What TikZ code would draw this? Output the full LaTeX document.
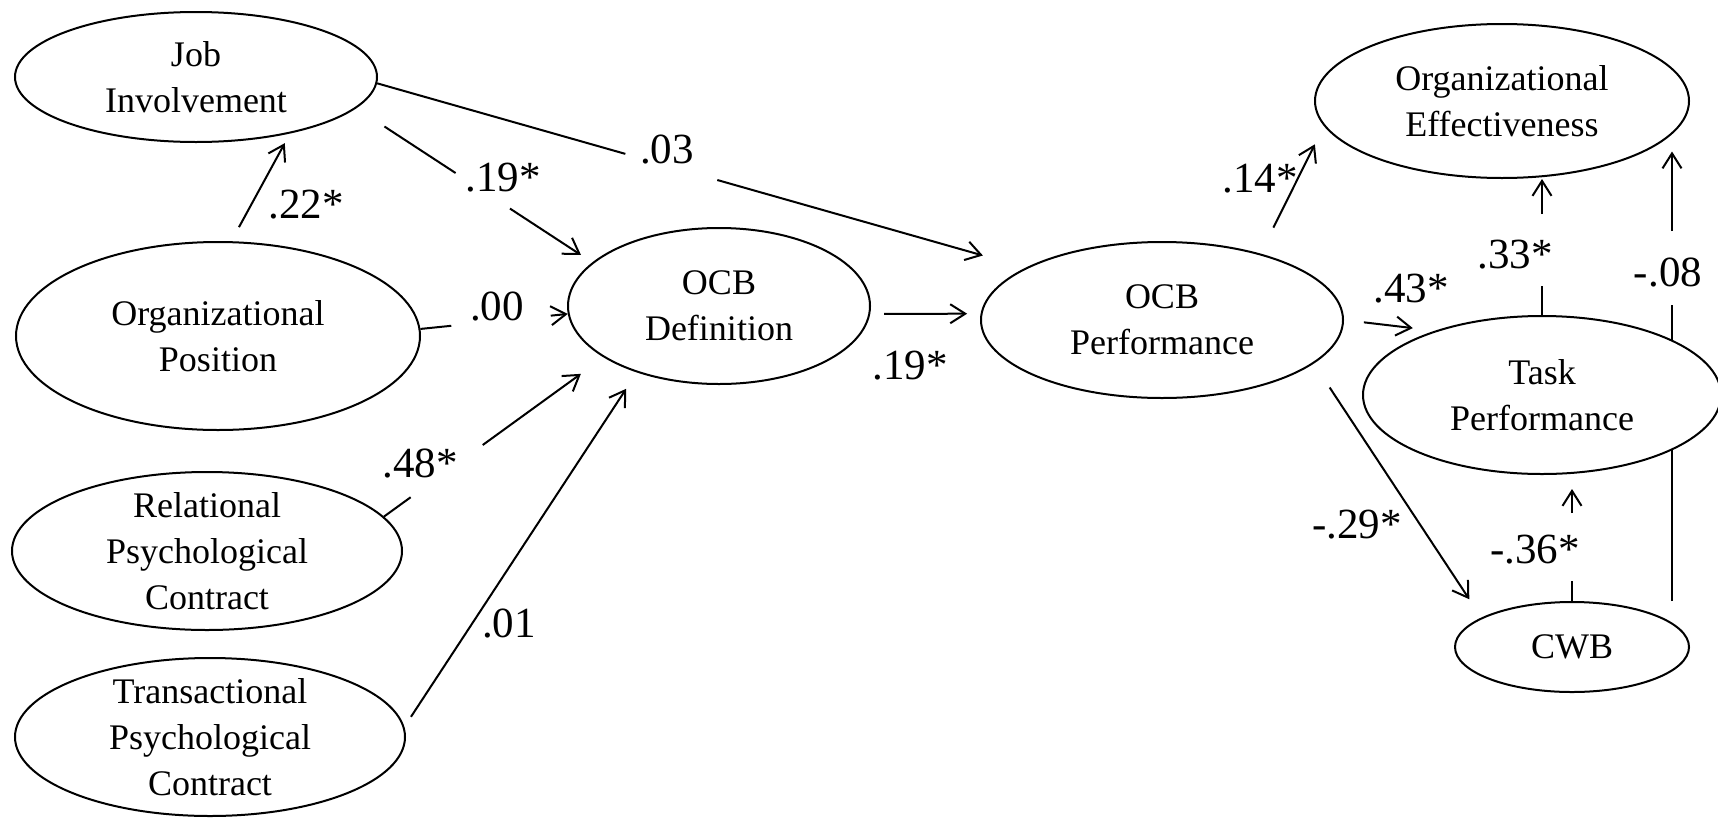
\documentclass[tikz,border=0pt]{standalone}
\usepackage{fontspec}
\setmainfont{Liberation Serif}
\usetikzlibrary{shapes.geometric,arrows.meta}
\pgfdeclarelayer{bg}
\pgfsetlayers{bg,main}
\begin{document}
\begin{tikzpicture}[x=1pt,y=-1pt,
  latent/.style={ellipse, draw, line width=2pt, fill=white, inner sep=0pt, align=center,
                 font=\fontsize{36}{46}\selectfont},
  conn/.style={line width=2pt, -{Straight Barb[length=15pt,width=19pt]}},
  coef/.style={anchor=base, inner sep=0pt, font=\fontsize{43}{50}\selectfont}]
\useasboundingbox (0,0) rectangle (1718,817);

% latent variables
\node[latent, minimum width=362pt, minimum height=130pt] (JI) at (196,77) {Job\\Involvement};
\node[latent, minimum width=404pt, minimum height=188pt] (OP) at (218,336) {Organizational\\Position};
\node[latent, minimum width=390pt, minimum height=158pt, inner ysep=-8pt] (RPC) at (207,551) {Relational\\Psychological\\Contract};
\node[latent, minimum width=390pt, minimum height=158pt, inner ysep=-8pt] (TPC) at (210,737) {Transactional\\Psychological\\Contract};
\node[latent, minimum width=302pt, minimum height=156pt] (DEF) at (719,306) {OCB\\Definition};
\node[latent, minimum width=362pt, minimum height=156pt] (PERF) at (1162,320) {OCB\\Performance};
\node[latent, minimum width=374pt, minimum height=154pt] (OE) at (1502,101) {Organizational\\Effectiveness};
\node[latent, minimum width=358pt, minimum height=158pt] (TASK) at (1542,395) {Task\\Performance};
\node[latent, minimum width=234pt, minimum height=90pt] (CWB) at (1572,647) {CWB};

% connectors (behind the ellipses)
\begin{pgfonlayer}{bg}
\fill[white] (0,0) rectangle (1718,817);
\draw[conn, shorten <=16pt, shorten >=11pt] (OP.82) -- (JI.-31.6);
\draw[conn, shorten <=33.5pt, shorten >=13.5pt, dash pattern=on 85pt off 65pt on 2000pt] (JI.-11.9) -- (DEF.161.9);
\draw[conn, dash pattern=on 31pt off 100pt on 2000pt] (OP.2.8) -- (DEF.-177.3);
\draw[conn, shorten >=28pt, dash pattern=on 33pt off 89pt on 2000pt] (RPC.11.8) -- (DEF.-156.8);
\draw[conn, shorten <=12pt, shorten >=19.5pt] (TPC.3) -- (DEF.-141.1);
\draw[conn, shorten >=44.5pt, dash pattern=on 258pt off 95.6pt on 2000pt] (JI.-2.6) -- (PERF.159.7);
\draw[conn, shorten <=14pt, shorten >=13.5pt] (DEF.-3) -- (PERF.178.1);
\draw[conn, shorten <=29pt, shorten >=20.4pt] (PERF.34.3) -- (OE.-172.4);
\draw[conn, shorten <=20pt, shorten >=22.3pt] (PERF.-0.3) -- (TASK.149.4);
\draw[conn, shorten <=28.7pt, shorten >=21.9pt] (PERF.-16.5) -- (CWB.162.2);
\draw[conn, dash pattern=on 29pt off 72pt on 2000pt] (TASK.north) -- (TASK.north |- OE.south);
\draw[conn, shorten >=14pt, dash pattern=on 20pt off 68pt on 2000pt] (CWB.north) -- (CWB.north |- TASK.south);
\coordinate (cwbR) at ([xshift=100pt]CWB.north);
\draw[conn, shorten >=20pt, dash pattern=on 296pt off 74pt on 2000pt] (cwbR) -- (cwbR |- OE.-10.66);
\end{pgfonlayer}

% path coefficients
\node[coef] (l1) at (306,218) {.22*};
\node[coef] (l2) at (503,191) {.19*};
\node[coef] (l3) at (667,163) {.03};
\node[coef] (l4) at (497,320) {.00};
\node[coef] (l5) at (420,477) {.48*};
\node[coef] (l6) at (509,637) {.01};
\node[coef] (l7) at (910,379) {.19*};
\node[coef] (l8) at (1260,192) {.14*};
\node[coef] (l9) at (1411,302) {.43*};
\node[coef] (l10) at (1515,268) {.33*};
\node[coef] (l11) at (1668,286) {-.08};
\node[coef] (l12) at (1357,538) {-.29*};
\node[coef] (l13) at (1535,563) {-.36*};
\end{tikzpicture}
\end{document}
